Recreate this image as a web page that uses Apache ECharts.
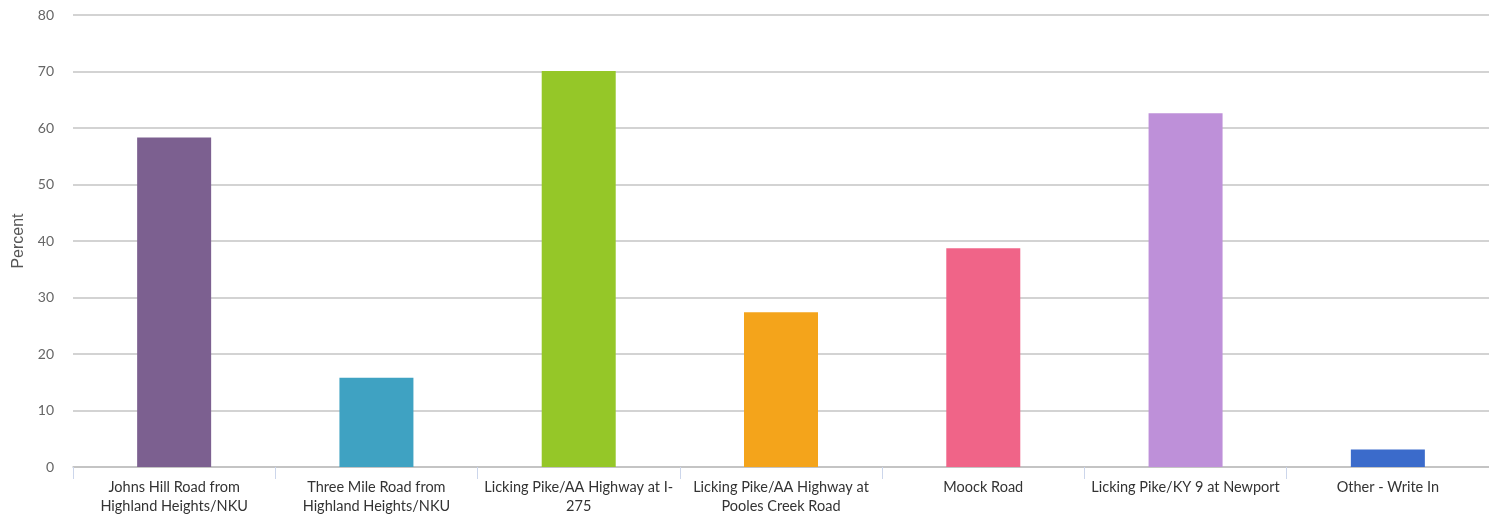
<!DOCTYPE html>
<html><head><meta charset="utf-8">
<script src="https://cdn.jsdelivr.net/npm/echarts@6/dist/echarts.min.js"></script>
<style>html,body{margin:0;padding:0;background:#fff}#c{width:1489px;height:516px}</style>
</head><body><div id="c"></div>
<script>
var categories = [
  "Johns Hill Road from\nHighland Heights/NKU",
  "Three Mile Road from\nHighland Heights/NKU",
  "Licking Pike/AA Highway at I-\n275",
  "Licking Pike/AA Highway at\nPooles Creek Road",
  "Moock Road",
  "Licking Pike/KY 9 at Newport",
  "Other - Write In"
];
var values = [58.3, 15.8, 70.1, 27.4, 38.7, 62.6, 3.1];
var colors = ["#7c6090", "#3fa2c2", "#95c728", "#f4a41b", "#f06488", "#be90d9", "#3b6bcb"];
var yTicks = [0, 10, 20, 30, 40, 50, 60, 70, 80];

var chart = echarts.init(document.getElementById('c'), null, {renderer: 'canvas'});
chart.setOption({
  animation: false,
  grid: {left: 73, right: 0, top: 15, bottom: 41.5, containLabel: false},
  xAxis: {
    type: 'category',
    data: categories,
    boundaryGap: true,
    axisLine: {show: true, lineStyle: {color: '#c0c0c0', width: 1.5}},
    axisTick: {show: true, length: 12, lineStyle: {color: '#ccd6eb', width: 1}},
    axisLabel: {
      interval: 0, color: '#333', fontFamily: 'Lato', fontSize: 14.5,
      lineHeight: 19, margin: 11
    }
  },
  yAxis: {
    type: 'value',
    min: yTicks[0], max: yTicks[yTicks.length - 1], interval: 10,
    name: 'Percent', nameLocation: 'middle', nameGap: 45,
    nameTextStyle: {color: '#555', fontFamily: 'Liberation Sans', fontSize: 16},
    axisLine: {show: false},
    axisTick: {show: false},
    axisLabel: {color: '#666', fontFamily: 'Lato', fontSize: 14, margin: 19},
    splitLine: {lineStyle: {color: '#c4c4c4', width: 1.5}}
  },
  series: [{
    type: 'bar',
    data: values.map(function (v, i) { return {value: v, itemStyle: {color: colors[i]}}; }),
    barWidth: 74
  }]
});
</script></body></html>
